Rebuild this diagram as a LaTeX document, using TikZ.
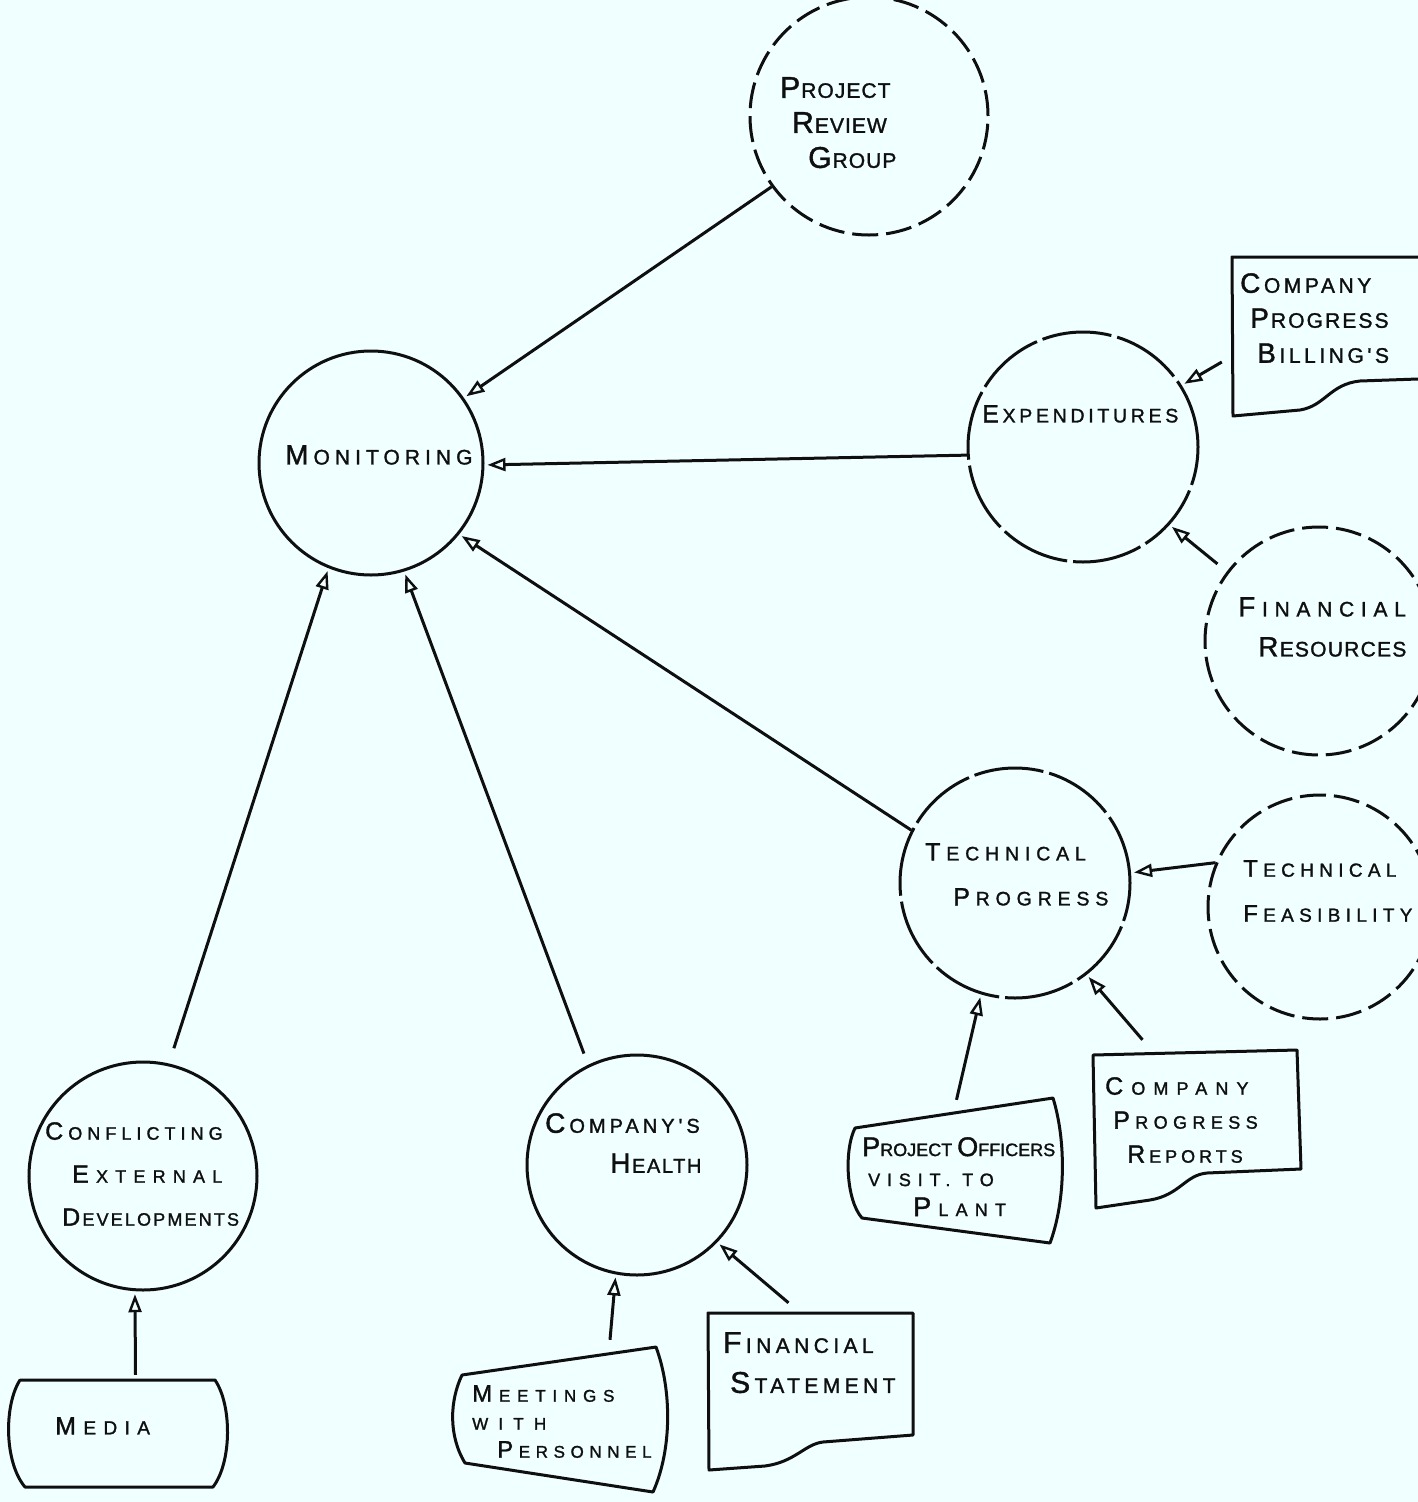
\documentclass[tikz,border=0pt]{standalone}
\usepackage{fontspec}
\newfontfamily\hand[FakeBold=1.4]{Liberation Sans}
\usetikzlibrary{arrows.meta}
\definecolor{paper}{RGB}{240,255,255}
\definecolor{ink}{RGB}{15,15,15}
% hand-lettered small caps: a tall initial, then the smaller letters,
% with the same tracking after the initial as between the other letters
\def\bigsz{30}\def\smsz{21}\def\lsp{0}
\newcommand\hsc[2]{{\fontsize{\bigsz}{\bigsz}\selectfont #1}\kern\dimexpr\smsz pt*\lsp/100\relax #2}
\newcommand\track[2]{{\addfontfeature{LetterSpace=#1}\def\lsp{#1}#2}}

\tikzset{
  lettering/.style n args={4}{inner sep=0pt, anchor=north west, align=left, text=ink,
    font={\hand\addfontfeature{LetterSpace=#4}\def\lsp{#4}\def\bigsz{#1}\def\smsz{#2}\fontsize{#2}{#3}\selectfont}},
  bubble/.style={circle, draw=ink, line width=3pt, inner sep=0pt, minimum size=#1},
  broken/.style={dash pattern=on 26pt off 8pt},
  loose/.style={dash pattern=on 70pt off 6pt},
  boxarea/.style 2 args={inner sep=0pt, minimum width=#1, minimum height=#2},
  boxline/.style={draw=ink, line width=3pt, line join=round, line cap=round},
  flow/.style={draw=ink, line width=3pt, -{Triangle[open, length=18pt, width=13pt, line width=2.4pt]}, shorten >=3pt},
}

\begin{document}
\begin{tikzpicture}[x=1pt,y=-1pt]
\useasboundingbox (0,0) rectangle (1418,1502);
\fill[paper] (0,0) rectangle (1418,1502);
\clip (0,0) rectangle (1418,1502);

% processes
\node[bubble=238pt, broken] (prg) at (869,116) {};
\node[bubble=224pt] (mon) at (371,463) {};
\node[bubble=230pt, loose] (exp) at (1083,447) {};
\node[bubble=228pt, broken] (fr) at (1319,641) {};
\node[bubble=230pt, loose] (tp) at (1015,883) {};
\node[bubble=224pt, broken] (tf) at (1320,907) {};
\node[bubble=228pt] (ced) at (143,1176) {};
\node[bubble=220pt] (ch) at (637,1165) {};

% documents and sources
\node[boxarea={208pt}{160pt}] (cpb) at (1336,337) {};
\node[boxarea={209pt}{158pt}] (cpr) at (1197.5,1129) {};
\node[boxarea={217pt}{145pt}] (po) at (954.5,1170.5) {};
\node[boxarea={221pt}{107pt}] (media) at (117.5,1433.5) {};
\node[boxarea={218pt}{145pt}] (meet) at (561,1419.5) {};
\node[boxarea={205pt}{157pt}] (fs) at (810.5,1391.5) {};

\draw[boxline] (1418,257) -- (1232,257) -- (1233,416) -- (1300,410)
  .. controls (1325,406) and (1330,384) .. (1360,381) -- (1418,379);
\draw[boxline] (1093,1055) -- (1297,1050) -- (1301,1169) -- (1207,1173)
  .. controls (1185,1175) and (1180,1195) .. (1150,1200) -- (1096,1208) -- cycle;
\draw[boxline] (855,1128) -- (1053,1098)
  .. controls (1066,1140) and (1066,1200) .. (1050,1243) -- (862,1218)
  .. controls (846,1200) and (844,1150) .. (855,1128);
\draw[boxline] (20,1380) -- (215,1380)
  .. controls (232,1405) and (232,1462) .. (213,1487) -- (25,1487)
  .. controls (4,1462) and (4,1405) .. (20,1380);
\draw[boxline] (462,1375) -- (656,1347)
  .. controls (672,1390) and (672,1450) .. (653,1492) -- (465,1463)
  .. controls (448,1435) and (450,1400) .. (462,1375);
\draw[boxline] (708,1313) -- (913,1313) -- (913,1435) -- (823,1442)
  .. controls (805,1444) and (795,1462) .. (765,1466) -- (709,1470) -- cycle;

% data flows
\draw[flow] (prg.216) -- (mon.35);
\draw[flow] (exp.184) -- (mon.-1);
\draw[flow] (tp.153) -- (mon.-39);
\draw[flow, shorten <=16pt] (ced.77) -- (mon.-112);
\draw[flow, shorten <=12pt] (ch.116) -- (mon.-73);
\draw[flow] ([xshift=-10pt,yshift=-25pt]cpb.west) -- (exp.32);
\draw[flow, shorten <=12pt] (fr.143) -- (exp.-42);
\draw[flow] (tf.157) -- (tp.5);
\draw[flow] ([xshift=2pt,yshift=-2pt]po.north) -- (tp.-107);
\draw[flow] ([xshift=-55pt,yshift=10pt]cpr.north) -- (tp.-52);
\draw[flow] ([xshift=18pt,yshift=5pt]media.north) -- (ced.-94);
\draw[flow] ([xshift=49pt,yshift=7pt]meet.north) -- (ch.-101);
\draw[flow] ([xshift=-22pt,yshift=10pt]fs.north) -- (ch.-44);

% lettering
\node[lettering={30}{21}{35}{5}] (prg-text) at (780,77)
  {\hsc{P}{ROJECT}\\\hspace*{12pt}\hsc{R}{EVIEW}\\\hspace*{28pt}\hsc{G}{ROUP}};
\node[lettering={28}{21}{30}{24}] (mon-text) at (285,445) {\hsc{M}{ONITORING}};
\node[lettering={25}{19.5}{30}{19}] (exp-text) at (982,405) {\hsc{E}{XPENDITURES}};
\node[lettering={25}{19.5}{45}{30}] (tp-text) at (925,843)
  {\hsc{T}{ECHNICAL}\\\hspace*{28pt}\hsc{P}{ROGRESS}};
\node[lettering={28}{21}{40}{32}] (fr-text) at (1238,597)
  {\hsc{F}{INANCIAL}\\\hspace*{20pt}\track{6}{\hsc{R}{ESOURCES}}};
\node[lettering={24}{19}{45}{28}] (tf-text) at (1243,860)
  {\hsc{T}{ECHNICAL}\\\hsc{F}{EASIBILITY}};
\node[lettering={25}{18}{43}{28}] (ced-text) at (45,1122)
  {\hsc{C}{ONFLICTING}\\\hspace*{27pt}\track{40}{\hsc{E}{XTERNAL}}\\\hspace*{17pt}\track{12}{\hsc{D}{EVELOPMENTS}}};
\node[lettering={28}{20}{40}{20}] (ch-text) at (545,1113)
  {\hsc{C}{OMPANY'S}\\\hspace*{65pt}\track{8}{\hsc{H}{EALTH}}};
\node[lettering={28}{21}{35}{17}] (cpb-text) at (1240,273)
  {\hsc{C}{OMPANY}\\\hspace*{10pt}\track{10}{\hsc{P}{ROGRESS}}\\\hspace*{17pt}\hsc{B}{ILLING'S}};
\node[lettering={25}{18}{34}{30}] (cpr-text) at (1105,1077)
  {\track{45}{\hsc{C}{OMPANY}}\\\hspace*{8pt}\hsc{P}{ROGRESS}\\\hspace*{22pt}\track{22}{\hsc{R}{EPORTS}}};
\node[lettering={27}{18}{30}{0}] (po-text) at (862,1137)
  {\hsc{P}{ROJECT} \hsc{O}{FFICERS}\\\hspace*{6pt}\track{38}{VISIT. TO}\\\hspace*{51pt}\track{40}{\hsc{P}{LANT}}};
\node[lettering={25}{19}{20}{39}] (media-text) at (55,1417) {\hsc{M}{EDIA}};
\node[lettering={24}{17}{28}{40}] (meet-text) at (472,1385)
  {\hsc{M}{EETINGS}\\\track{60}{WITH}\\\hspace*{25pt}\track{33}{\hsc{P}{ERSONNEL}}};
\node[lettering={30}{21}{40}{21}] (fs-text) at (723,1332)
  {\hsc{F}{INANCIAL}\\\hspace*{7pt}\hsc{S}{TATEMENT}};
\end{tikzpicture}
\end{document}
